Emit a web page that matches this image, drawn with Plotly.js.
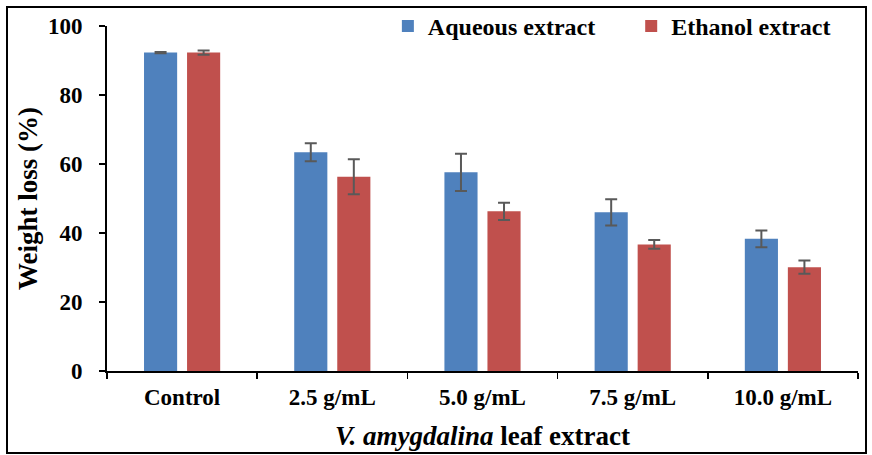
<!DOCTYPE html>
<html>
<head>
<meta charset="utf-8">
<script src="https://cdn.plot.ly/plotly-3.0.1.min.js"></script>
<style>
html,body{margin:0;padding:0;background:#fff;}
#frame{position:absolute;left:6px;top:6px;width:861px;height:448px;border:2px solid #000;box-sizing:border-box;}
#chart{position:absolute;left:0;top:0;width:872px;height:455px;}
</style>
</head>
<body>
<div id="frame"></div>
<div id="chart"></div>
<script>
const categories = ["Control", "2.5 g/mL", "5.0 g/mL", "7.5 g/mL", "10.0 g/mL"];
const aqueous = [92.3, 63.4, 57.6, 46.0, 38.3];
const aqueousErr = [0.2, 2.6, 5.4, 3.8, 2.4];
const ethanol = [92.3, 56.3, 46.3, 36.7, 30.1];
const ethanolErr = [0.6, 5.1, 2.5, 1.3, 1.9];
const yTicks = [0, 20, 40, 60, 80, 100];

const fam = "Liberation Serif, Times New Roman, serif";
const errStyle = {type: "data", visible: true, color: "#595959", thickness: 2, width: 6};

const traces = [
  {type: "bar", name: "<b>Aqueous extract</b>", x: categories, y: aqueous,
   marker: {color: "#4F81BD"}, legend: "legend",
   error_y: Object.assign({array: aqueousErr}, errStyle)},
  {type: "bar", name: "<b>Ethanol extract</b>", x: categories, y: ethanol,
   marker: {color: "#C0504D"}, legend: "legend2",
   error_y: Object.assign({array: ethanolErr}, errStyle)}
];

const legendFont = {family: fam, size: 24, color: "#000"};

const layout = {
  width: 872, height: 455,
  paper_bgcolor: "rgba(0,0,0,0)", plot_bgcolor: "rgba(0,0,0,0)",
  margin: {l: 107, r: 14, t: 26, b: 84, autoexpand: false},
  barmode: "group", bargap: 0.427, bargroupgap: 0.23,
  font: {family: fam, color: "#000"},
  showlegend: true,
  legend: {orientation: "h", x: 0.374, y: 1.064, xanchor: "left", yanchor: "top",
           font: legendFont, bgcolor: "rgba(0,0,0,0)"},
  legend2: {orientation: "h", x: 0.698, y: 1.064, xanchor: "left", yanchor: "top",
           font: legendFont, bgcolor: "rgba(0,0,0,0)"},
  xaxis: {
    type: "category", range: [-0.5, 4.5],
    showline: true, linecolor: "#000", linewidth: 2,
    ticks: "outside", tickson: "boundaries", ticklen: 6, tickcolor: "#000", tickwidth: 1.5,
    tickfont: {family: fam, size: 23, color: "#000", weight: "bold"},
    ticklabelstandoff: 4,
    title: {text: "<b><i>V. amygdalina</i> leaf extract</b>", font: {family: fam, size: 27, color: "#000"}, standoff: 18},
    showgrid: false, zeroline: false
  },
  yaxis: {
    range: [0, 100], tickvals: yTicks, ticktext: yTicks.map(String),
    showline: true, linecolor: "#000", linewidth: 2,
    ticks: "outside", ticklen: 6, tickcolor: "#000", tickwidth: 1.5,
    tickfont: {family: fam, size: 23, color: "#000", weight: "bold"},
    ticklabelstandoff: 12,
    title: {text: "<b>Weight loss (%)</b>", font: {family: fam, size: 27, color: "#000"}, standoff: 2},
    showgrid: false, zeroline: false
  }
};

Plotly.newPlot("chart", traces, layout, {displayModeBar: false, staticPlot: true});
</script>
</body>
</html>
